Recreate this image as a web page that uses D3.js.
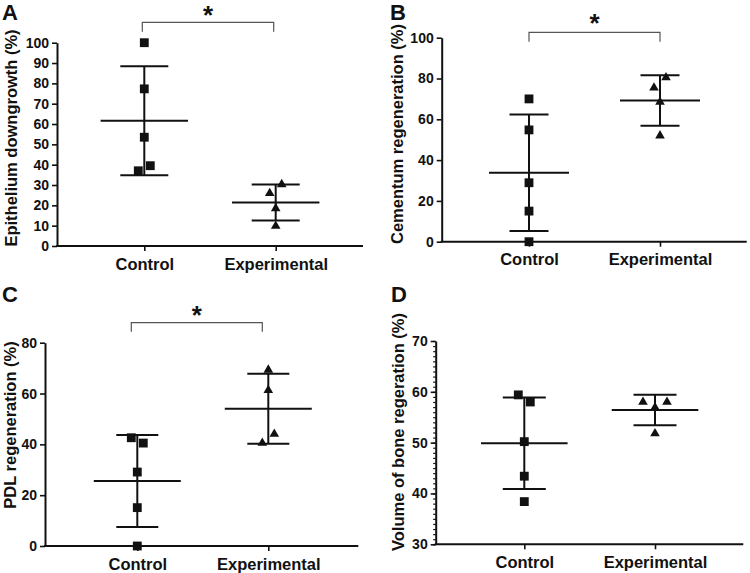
<!DOCTYPE html>
<html><head><meta charset="utf-8">
<script src="https://cdn.jsdelivr.net/npm/d3@7"></script>
<style>
body{margin:0;background:#fff}
svg{display:block}
text{font-family:"Liberation Sans",Arial,sans-serif;font-weight:bold;fill:#111}
</style>
</head><body>
<svg id="chart" width="750" height="573"></svg>
<script>
// ---------- data ----------
const categories = ["Control", "Experimental"];
const panelLetters = ["A", "B", "C", "D"];
const yTitles = ["Epithelium downgrowth (%)", "Cementum regeneration (%)", "PDL regeneration (%)", "Volume of bone regeration (%)"];
const significance = ["*", "*", "*", ""];

const epitheliumControl = [100, 77.3, 53.5, 39.5, 37];
const epitheliumExperimental = [30.3, 25.9, 18.5, 9.8];
const epitheliumMean = [61.6, 21.4];
const epitheliumSD = [26.8, 8.9];

const cementumControl = [70, 54.8, 28.9, 15, 0];
const cementumExperimental = [80.5, 75.5, 68.5, 52];
const cementumMean = [33.8, 69.2];
const cementumSD = [28.6, 12.4];

const pdlControl = [42.6, 40.5, 29.1, 15.1, 0];
const pdlExperimental = [69.3, 61.3, 44.1, 40.5];
const pdlMean = [25.6, 54.0];
const pdlSD = [18.1, 13.8];

const boneControl = [59.4, 58, 50.2, 43.4, 38.4];
const boneExperimental = [58, 58, 56.9, 51.8];
const boneMean = [49.9, 56.4];
const boneSD = [9.0, 3.0];

const yDomains = [[0, 100], [0, 100], [0, 80], [30, 70]];
const yTicks = [
  [0, 10, 20, 30, 40, 50, 60, 70, 80, 90, 100],
  [0, 20, 40, 60, 80, 100],
  [0, 20, 40, 60, 80],
  [30, 40, 50, 60, 70]
];
const yMinorTicks = [[], [], [], d3.range(30, 71, 1)];

const panelData = [
  {groups: [epitheliumControl, epitheliumExperimental], mean: epitheliumMean, sd: epitheliumSD},
  {groups: [cementumControl, cementumExperimental], mean: cementumMean, sd: cementumSD},
  {groups: [pdlControl, pdlExperimental], mean: pdlMean, sd: pdlSD},
  {groups: [boneControl, boneExperimental], mean: boneMean, sd: boneSD}
];

// ---------- layout (positions/sizes only) ----------
const layout = [
  {x0: 57, x1: 363, yTop: 42.7, yBot: 246, cx: [144.3, 275.7], meanHalf: 43.7, capHalf: 24,
   jitter: [[0,0,0,1,-1],[1,-1,0,0]], brTop: 22.3, brBot: 31.7, brShift: -2, starY: 11,
   letter: [2, 20], title: [11, 138]},
  {x0: 441.7, x1: 746.7, yTop: 37.7, yBot: 241.7, cx: [529, 660], meanHalf: 40, capHalf: 19.5,
   jitter: [[0,0,0,0,0],[1,-1,0,0]], brTop: 32.3, brBot: 41.7, brShift: 0, starY: 19,
   letter: [390, 20], title: [397, 134]},
  {x0: 45, x1: 358.3, yTop: 342.7, yBot: 546, cx: [137.3, 268.3], meanHalf: 43.5, capHalf: 21,
   jitter: [[-1,1,0,0,0],[0,0,1,-1]], brTop: 322.7, brBot: 331.7, brShift: -6, starY: 311,
   letter: [2, 302], title: [10, 425]},
  {x0: 435.7, x1: 743.3, yTop: 341, yBot: 544.3, cx: [524.3, 655], meanHalf: 43.3, capHalf: 21.5,
   jitter: [[-1,1,0,0,0],[-2,2,0,0]], brTop: 0, brBot: 0, brShift: 0, starY: 0,
   letter: [391, 302], title: [398, 432]}
];
const jitterStep = 6;
const markerShapes = [d3.symbolSquare, d3.symbolTriangle];
const markerSizes = [78, 40];
const FONT = '"Liberation Sans",Arial,sans-serif';

const svg = d3.select("#chart");

panelData.forEach((pd, i) => {
  const L = layout[i];
  const g = svg.append("g");
  const y = d3.scaleLinear().domain(yDomains[i]).range([L.yBot, L.yTop]);
  const x = d3.scalePoint().domain(categories).range(L.cx);

  // y axis
  const ya = g.append("g").attr("transform", `translate(${L.x0},0)`)
    .call(d3.axisLeft(y).tickValues(yTicks[i]).tickSize(5).tickSizeOuter(0).tickPadding(3));
  if (yMinorTicks[i].length) {
    g.append("g").attr("transform", `translate(${L.x0},0)`)
      .call(d3.axisLeft(y).tickValues(yMinorTicks[i]).tickSize(2.5).tickFormat(""))
      .call(s => s.select(".domain").remove())
      .selectAll("line").attr("stroke", "#111").attr("stroke-width", 1.2);
  }
  ya.select(".domain").attr("stroke", "#111").attr("stroke-width", 2);
  ya.selectAll(".tick line").attr("stroke", "#111").attr("stroke-width", 1.6);
  ya.selectAll(".tick text").style("font-size", "14px").style("font-family", FONT).style("font-weight", "bold").attr("fill", "#111");

  // x axis
  const xa = g.append("g").attr("transform", `translate(0,${L.yBot})`)
    .call(d3.axisBottom(x).tickSize(5).tickSizeOuter(0).tickPadding(7));
  xa.select(".domain").remove();
  xa.append("line").attr("x1", L.x0 - 1).attr("x2", L.x1).attr("y1", 0).attr("y2", 0)
    .attr("stroke", "#111").attr("stroke-width", 2);
  xa.selectAll(".tick line").attr("stroke", "#111").attr("stroke-width", 1.6);
  xa.selectAll(".tick text").style("font-size", "16.5px").style("font-family", FONT).style("font-weight", "bold").attr("fill", "#111");

  // y title
  g.append("text")
    .attr("transform", `translate(${L.title[0]},${L.title[1]}) rotate(-90)`)
    .attr("text-anchor", "middle").attr("dominant-baseline", "central")
    .style("font-size", "16.5px").text(yTitles[i]);

  // panel letter
  g.append("text").attr("x", L.letter[0]).attr("y", L.letter[1])
    .style("font-size", "22px").text(panelLetters[i]);

  // points
  pd.groups.forEach((vals, k) => {
    const cx = x(categories[k]);
    g.append("g").selectAll("path").data(vals).join("path")
      .attr("d", d3.symbol().type(markerShapes[k]).size(markerSizes[k]))
      .attr("transform", (v, j) => `translate(${cx + L.jitter[k][j] * jitterStep},${y(v)})`)
      .attr("fill", "#111");
  });

  // mean and SD
  pd.mean.forEach((m, k) => {
    const cx = x(categories[k]);
    const s = pd.sd[k];
    const eg = g.append("g").attr("stroke", "#111").attr("stroke-width", 2);
    eg.append("line").attr("x1", cx).attr("x2", cx).attr("y1", y(m + s)).attr("y2", y(m - s));
    eg.append("line").attr("x1", cx - L.meanHalf).attr("x2", cx + L.meanHalf).attr("y1", y(m)).attr("y2", y(m));
    eg.append("line").attr("x1", cx - L.capHalf).attr("x2", cx + L.capHalf).attr("y1", y(m + s)).attr("y2", y(m + s));
    eg.append("line").attr("x1", cx - L.capHalf).attr("x2", cx + L.capHalf).attr("y1", y(m - s)).attr("y2", y(m - s));
  });

  // significance bracket
  if (significance[i]) {
    const xa0 = x(categories[0]) + L.brShift, xa1 = x(categories[1]) + L.brShift;
    g.append("path")
      .attr("d", `M${xa0},${L.brBot}V${L.brTop}H${xa1}V${L.brBot}`)
      .attr("fill", "none").attr("stroke", "#555").attr("stroke-width", 1.2);
    g.append("text").attr("x", (xa0 + xa1) / 2).attr("y", L.starY + 13)
      .attr("text-anchor", "middle").style("font-size", "26px").text(significance[i]);
  }
});
</script>
</body></html>
